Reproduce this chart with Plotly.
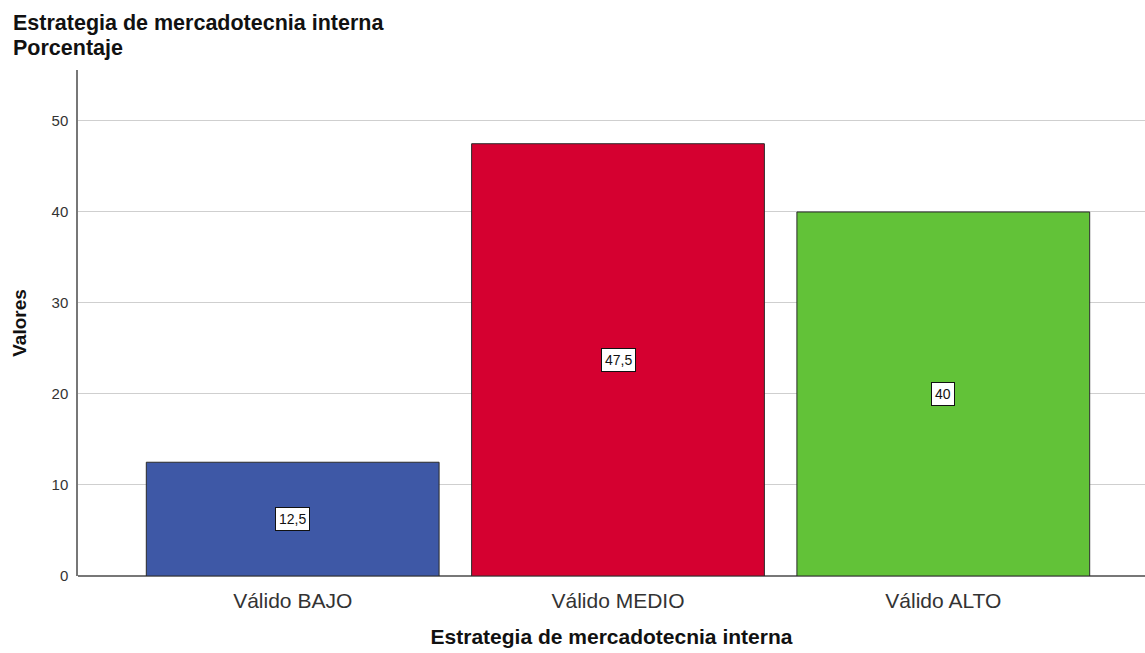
import plotly.graph_objects as go

categories = ["Válido BAJO", "Válido MEDIO", "Válido ALTO"]
porcentaje = [12.5, 47.5, 40]
bar_colors = ["#3E58A6", "#D50030", "#62C238"]
y_ticks = [0, 10, 20, 30, 40, 50]
title_lines = ["Estrategia de mercadotecnia interna", "Porcentaje"]

FONT = "Liberation Sans, Arial"
W, H = 1145, 653
M_L, M_R, M_T, M_B = 78, 0, 70, 77
PW, PH = W - M_L - M_R, H - M_T - M_B


def fmt(v):
    return f"{v:g}".replace(".", ",")


def px_x(x):
    return (x - M_L) / PW


def px_y(y):
    return (H - M_B - y) / PH


fig = go.Figure()
fig.add_trace(go.Bar(
    x=categories,
    y=porcentaje,
    marker=dict(color=bar_colors, line=dict(color="#2a2a2a", width=1)),
    width=0.9,
    hoverinfo="skip",
))

# value labels in white boxes at the middle of each bar
for c, v in zip(categories, porcentaje):
    fig.add_annotation(
        x=c, y=v / 2, text=fmt(v), showarrow=False,
        font=dict(family=FONT, size=14, color="#111"),
        bgcolor="white", bordercolor="#111", borderwidth=1, borderpad=3,
    )

# two-line chart heading, tightly spaced
for line, yc in zip(title_lines, [23, 48]):
    fig.add_annotation(
        xref="paper", yref="paper", x=px_x(11), y=px_y(yc),
        xanchor="left", yanchor="middle", showarrow=False,
        text=f"<b>{line}</b>",
        font=dict(family=FONT, size=21.5, color="#111"),
    )

fig.update_layout(
    width=W, height=H,
    margin=dict(l=M_L, r=M_R, t=M_T, b=M_B),
    paper_bgcolor="white", plot_bgcolor="white",
    showlegend=False,
    font=dict(family=FONT, color="#222"),
    xaxis=dict(
        range=[-0.66, 2.62],
        showgrid=False, zeroline=False,
        showline=False,
        tickfont=dict(size=21, color="#333"),
        ticks="", ticklabelstandoff=10,
        title=dict(text="<b>Estrategia de mercadotecnia interna</b>",
                   font=dict(size=21, color="#111"), standoff=18),
    ),
    yaxis=dict(
        range=[0, 55.6],
        tickvals=y_ticks,
        showgrid=True, gridcolor="#cfcfcf", gridwidth=1,
        zeroline=True, zerolinecolor="#777", zerolinewidth=1.5,
        showline=True, linecolor="#777", linewidth=1.5,
        tickfont=dict(size=15, color="#333"),
        ticks="", ticklabelstandoff=5,
        title=dict(text="<b>Valores</b>", font=dict(size=19, color="#111"),
                   standoff=20),
    ),
)

fig.write_html("out.html")
